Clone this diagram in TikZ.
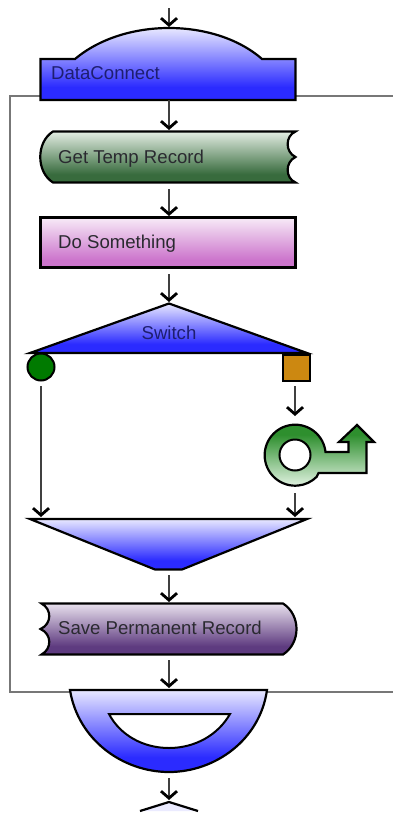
\documentclass[tikz,border=0pt]{standalone}
\usepackage{fontspec}
\setmainfont{Liberation Sans}
\usetikzlibrary{arrows.meta}
\definecolor{frameg}{HTML}{777777}
\definecolor{inkt}{HTML}{2A2A30}
\definecolor{inkn}{HTML}{1E1E70}
\definecolor{sqorange}{HTML}{CC8811}
\definecolor{cirgreen}{HTML}{007A00}
\pgfdeclareverticalshading{bluegrad}{100bp}{rgb(0bp)=(0.17,0.17,1);rgb(34bp)=(0.17,0.17,1);rgb(75bp)=(0.91,0.91,1);rgb(100bp)=(0.91,0.91,1)}
\pgfdeclareverticalshading{greengrad}{100bp}{rgb(0bp)=(0.22,0.42,0.24);rgb(33bp)=(0.22,0.42,0.24);rgb(75bp)=(0.89,0.93,0.89);rgb(100bp)=(0.89,0.93,0.89)}
\pgfdeclareverticalshading{pinkgrad}{100bp}{rgb(0bp)=(0.80,0.46,0.80);rgb(33bp)=(0.80,0.46,0.80);rgb(75bp)=(0.97,0.92,0.97);rgb(100bp)=(0.97,0.92,0.97)}
\pgfdeclareverticalshading{purplegrad}{100bp}{rgb(0bp)=(0.37,0.23,0.50);rgb(33bp)=(0.37,0.23,0.50);rgb(75bp)=(0.91,0.88,0.93);rgb(100bp)=(0.91,0.88,0.93)}
\pgfdeclareverticalshading{keygrad}{100bp}{rgb(0bp)=(0.90,0.96,0.90);rgb(25bp)=(0.90,0.96,0.90);rgb(66bp)=(0.18,0.56,0.18);rgb(100bp)=(0.18,0.56,0.18)}
\tikzset{
  shapeline/.style={draw=black,line width=2.2pt,line join=miter,miter limit=12},
  bluefill/.style={shapeline,shading=bluegrad},
  plainline/.style={draw=black,line width=2.2pt},
  conn/.style={draw=black!75,line width=2pt,-{Straight Barb[length=7pt,width=16pt,line width=2.8pt,color=black]}},
  frameline/.style={draw=frameg,line width=2pt},
  lbl/.style={font=\fontsize{18.6}{22}\selectfont,text=inkt,inner sep=0pt,anchor=base west}
}
\begin{document}
\begin{tikzpicture}[x=1pt,y=-1pt]
\useasboundingbox (0,0) rectangle (393,814);
% frame
\draw[frameline] (393,96) -- (10,96) -- (10,692) -- (393,692);
% named points
\coordinate (t0) at (169,8);
\coordinate (dcT) at (169,27);
\coordinate (dcB) at (169,100);
\coordinate (gtT) at (169,130);
\coordinate (gtB) at (169,189);
\coordinate (dsT) at (169,216);
\coordinate (dsB) at (169,274);
\coordinate (swT) at (169,302);
\coordinate (ciB) at (41,386);
\coordinate (mgL) at (41,517);
\coordinate (sqB) at (295,386);
\coordinate (keyT) at (295,416);
\coordinate (keyB) at (295,493);
\coordinate (mgR) at (295,517);
\coordinate (mgB) at (169,575);
\coordinate (svT) at (169,602);
\coordinate (svB) at (169,660);
\coordinate (hmT) at (169,688);
\coordinate (hmB) at (169,778);
\coordinate (nxT) at (169,800);
% DataConnect
\path[bluefill] (40.5,100) -- (40.5,59) -- (75,59) .. controls (100,38) and (135,28) .. (169,28)
  .. controls (203,28) and (238,38) .. (262,59) -- (295.5,59) -- (295.5,100) -- cycle;
\node[lbl,text=inkn] (dc) at (51,79) {DataConnect};
% Get Temp Record
\path[shapeline,shading=greengrad] (53,131.5) -- (295.5,131.5)
  .. controls (285,136) and (285,152) .. (295.5,157) .. controls (285,162) and (285,178) .. (295.5,182.5)
  -- (53,182.5) .. controls (36,172) and (36,142) .. (53,131.5) -- cycle;
\node[lbl] (gt) at (58,163) {Get Temp Record};
% Do Something
\path[shapeline,shading=pinkgrad] (40.5,217.5) rectangle (295.5,267.5);
\node[lbl] (ds) at (58,248) {Do Something};
% Switch
\path[bluefill] (169,303.5) -- (307,353) -- (30,353) -- cycle;
\node[lbl,text=inkn,anchor=base] (sw) at (169,339) {Switch};
% Circle and square
\path[draw=black,line width=2pt,fill=cirgreen] (41,367) circle (13.5);
\path[draw=black,line width=2pt,fill=sqorange] (282.5,354.5) rectangle (309.5,381);
% Key
\path[shapeline,shading=keygrad]
  (318.5,473) -- (366.5,473) -- (366.5,442) -- (374,442) -- (357,425) -- (339,442) -- (348.5,442)
  -- (348.5,452) -- (325.5,452) arc[start angle=-6,end angle=-360+45,radius=30.5] -- cycle;
\path[draw=black,line width=2pt,fill=white] (295,455) circle (15.5);
% Merge
\path[shapeline,shading=bluegrad] (30,519) -- (307,519) -- (182,569.5) -- (155,569.5) -- cycle;
% Save Permanent Record
\path[shapeline,shading=purplegrad] (41.5,603.5) -- (283,603.5)
  .. controls (301,615) and (301,643) .. (283,654.5) -- (41.5,654.5)
  .. controls (52,649) and (52,634) .. (40.5,629) .. controls (52,624) and (52,609) .. (41.5,603.5) -- cycle;
\node[lbl] (sv) at (58,634) {Save Permanent Record};
% Half moon
\path[shapeline,shading=bluegrad] (70,690) -- (267,690)
  .. controls (260,740) and (215,772) .. (169,772) .. controls (123,772) and (78,740) .. (70,690) -- cycle;
\path[draw=black,line width=2pt,fill=white] (109,714) -- (230,714)
  .. controls (218,735) and (195,748) .. (169,748) .. controls (143,748) and (120,735) .. (109,714) -- cycle;
% Next shape, cut by the edge of the view
\fill[blue!8] (169,802) -- (198,811) -- (140,811) -- cycle;
\draw[plainline] (140,811) -- (169,802) -- (198,811);
% Connectors
\draw[conn] (t0) -- (dcT);
\draw[conn] (dcB) -- (gtT);
\draw[conn] (gtB) -- (dsT);
\draw[conn] (dsB) -- (swT);
\draw[conn] (ciB) -- (mgL);
\draw[conn] (sqB) -- (keyT);
\draw[conn] (keyB) -- (mgR);
\draw[conn] (mgB) -- (svT);
\draw[conn] (svB) -- (hmT);
\draw[conn] (hmB) -- (nxT);
\end{tikzpicture}
\end{document}
